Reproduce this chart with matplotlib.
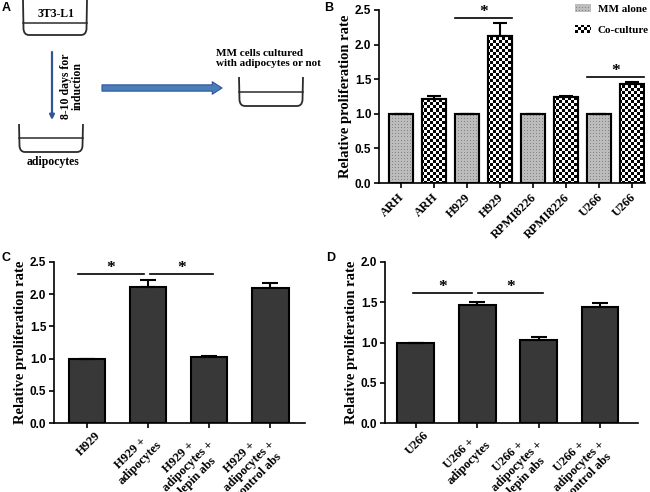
import numpy as np
import matplotlib
matplotlib.use('Agg')
import matplotlib.pyplot as plt
import matplotlib.transforms as mtransforms
from matplotlib.patches import Rectangle, PathPatch
from matplotlib.path import Path
from matplotlib.legend_handler import HandlerBase

# ---------------- data ----------------
b_labels = ['ARH', 'ARH', 'H929', 'H929', 'RPMI8226', 'RPMI8226', 'U266', 'U266']
b_groups = ['MM alone', 'Co-culture', 'MM alone', 'Co-culture',
            'MM alone', 'Co-culture', 'MM alone', 'Co-culture']
b_values = [1.0, 1.22, 1.0, 2.12, 1.0, 1.24, 1.0, 1.43]
b_errors = [0.0, 0.04, 0.0, 0.19, 0.0, 0.02, 0.0, 0.03]
b_sig_pairs = [(2, 3), (6, 7)]
b_sig_y = [2.39, 1.53]

c_labels = ['H929', 'H929 +\nadipocytes', 'H929 +\nadipocytes +\nlepin abs',
            'H929 +\nadipocytes +\ncontrol abs']
c_values = [1.0, 2.11, 1.025, 2.095]
c_errors = [0.0, 0.115, 0.02, 0.075]
c_sig_spans = [(-0.15, 0.93), (1.04, 2.07)]
c_sig_y = 2.31

d_labels = ['U266', 'U266 +\nadipocytes', 'U266 +\nadipocytes +\nlepin abs',
            'U266 +\nadipocytes +\ncontrol abs']
d_values = [1.0, 1.47, 1.03, 1.445]
d_errors = [0.0, 0.035, 0.035, 0.04]
d_sig_spans = [(-0.04, 0.92), (1.02, 2.07)]
d_sig_y = 1.615

SERIF = 'Liberation Serif'
SANS = 'Liberation Sans'

W, H = 650, 492
DPI = 100
fig = plt.figure(figsize=(W / DPI, H / DPI), dpi=DPI)


def fpos(left, top, right, bottom):
    return [left / W, 1 - bottom / H, (right - left) / W, (bottom - top) / H]


# ---------------- textures ----------------
def texture(kind, w, h):
    yy, xx = np.mgrid[0:h, 0:w]
    if kind == 'check':
        c = ((yy // 3 + xx // 3) % 2).astype(float)
        rgb = np.stack([c, c, c], axis=-1)
    else:
        base = np.full((h, w), 0.74)
        dots = (yy % 3 == 1) & (xx % 3 == 1)
        base[dots] = 0.52
        rgb = np.stack([base, base, base], axis=-1)
    return rgb


def add_textures(ax, bars, kinds):
    pos = ax.get_position()
    w = int(round(pos.width * W))
    h = int(round(pos.height * H))
    for bar, kind in zip(bars, kinds):
        im = ax.imshow(texture(kind, w, h), extent=(0, 1, 0, 1), transform=ax.transAxes,
                       aspect='auto', interpolation='nearest', zorder=2.5)
        im.set_clip_path(bar)


class TextureHandler(HandlerBase):
    def __init__(self, kind):
        super().__init__()
        self.kind = kind

    def create_artists(self, legend, orig_handle, xdescent, ydescent, width, height,
                       fontsize, trans):
        x0, y0 = -xdescent, -ydescent
        arts = []
        cell = 2.16
        if self.kind == 'check':
            arts.append(Rectangle((x0, y0), width, height, fc='white', ec='none', transform=trans))
            nx = int(np.ceil(width / cell))
            ny = int(np.ceil(height / cell))
            for i in range(nx):
                for j in range(ny):
                    if (i + j) % 2 == 0:
                        ww = min(cell, width - i * cell)
                        hh = min(cell, height - j * cell)
                        arts.append(Rectangle((x0 + i * cell, y0 + j * cell), ww, hh,
                                              fc='black', ec='none', transform=trans))
        else:
            arts.append(Rectangle((x0, y0), width, height, fc='#bdbdbd', ec='none', transform=trans))
            nx = int(width / cell)
            ny = int(height / cell)
            for i in range(nx):
                for j in range(ny):
                    arts.append(Rectangle((x0 + i * cell + 0.7, y0 + j * cell + 0.7), 0.72, 0.72,
                                          fc='#858585', ec='none', transform=trans))
        return arts


def style_axes(ax, ymax, ystep):
    for s in ['top', 'right']:
        ax.spines[s].set_visible(False)
    for s in ['left', 'bottom']:
        ax.spines[s].set_linewidth(1.2)
    ax.set_ylim(0, ymax)
    ticks = np.arange(0, ymax + 1e-9, ystep)
    ax.set_yticks(ticks)
    ax.set_yticklabels([f'{v:.1f}' for v in ticks],
                       fontfamily=SANS, fontweight='bold', fontsize=8.5)
    ax.tick_params(axis='both', direction='out', length=3.5, width=1.2, pad=2)
    ax.set_ylabel('Relative proliferation rate', fontfamily=SERIF, fontweight='bold',
                  fontsize=10.5, labelpad=2)


def set_xlabels(ax, labels, fs, pad, dx_px, linespacing=1.15):
    ax.set_xticks(np.arange(len(labels)))
    ax.tick_params(axis='x', pad=pad)
    ax.set_xticklabels(labels, rotation=45, ha='right', va='top', multialignment='center',
                       fontfamily=SERIF, fontweight='bold', fontsize=fs,
                       linespacing=linespacing)
    off = mtransforms.ScaledTranslation(dx_px / DPI, 0, fig.dpi_scale_trans)
    for lbl in ax.get_xticklabels():
        lbl.set_transform(lbl.get_transform() + off)


def draw_sig(ax, x1, x2, y, fs=12.5):
    ax.plot([x1, x2], [y, y], color='black', lw=1.2, clip_on=False, zorder=4)
    ax.annotate('*', xy=((x1 + x2) / 2, y), xytext=(0, -1.5), textcoords='offset points',
                ha='center', va='bottom', fontsize=fs, fontfamily=SERIF, fontweight='bold',
                annotation_clip=False)


# ---------------- Panel A (schematic) ----------------
axA = fig.add_axes([0, 0, 1, 1])
axA.set_xlim(0, W)
axA.set_ylim(H, 0)
axA.axis('off')


def beaker(x0, x1, top, bottom, liquid):
    r = 6
    verts = [(x0, top), (x0 + 0.5, bottom - r), (x0 + 1, bottom), (x0 + r, bottom),
             (x1 - r, bottom), (x1 - 1, bottom), (x1 - 0.5, bottom - r), (x1, top)]
    codes = [Path.MOVETO, Path.LINETO, Path.CURVE3, Path.CURVE3, Path.LINETO,
             Path.CURVE3, Path.CURVE3, Path.LINETO]
    axA.add_patch(PathPatch(Path(verts, codes), fill=False, ec='#2b2b2b', lw=1.3))
    axA.plot([x0 + 0.3, x1 - 0.3], [liquid, liquid], color='#2b2b2b', lw=1.1)


beaker(23, 87, 0, 35, 22.7)
beaker(19, 83, 124, 152, 138)
beaker(239, 303, 77, 106, 92)

axA.text(56, 14, '3T3-L1', ha='center', va='center', fontfamily=SERIF, fontweight='bold', fontsize=8.5)
axA.text(53, 162, 'adipocytes', ha='center', va='center', fontfamily=SERIF, fontweight='bold', fontsize=8.5)
axA.text(72, 86, '8-10 days for\ninduction', ha='center', va='center', rotation=90,
         fontfamily=SERIF, fontweight='bold', fontsize=8.5, linespacing=1.05)
axA.text(216, 58.5, 'MM cells cultured\nwith adipocytes or not', ha='left', va='center',
         fontfamily=SERIF, fontweight='bold', fontsize=8, linespacing=1.1)
axA.annotate('', xy=(52, 120), xytext=(52, 52),
             arrowprops=dict(arrowstyle='-|>', color='#2f5597', lw=1.6, mutation_scale=7,
                             shrinkA=0, shrinkB=0))
axA.annotate('', xy=(222, 88), xytext=(102, 88),
             arrowprops=dict(arrowstyle='simple,head_width=0.9,head_length=0.7,tail_width=0.45',
                             fc='#4a7ebb', ec='#2f5597', lw=0.8, mutation_scale=10,
                             shrinkA=0, shrinkB=0))

# panel letters
for lab, (px, py) in zip(['A', 'B', 'C', 'D'], [(2, 2), (324, 2), (2, 252), (326, 252)]):
    fig.text(px / W, 1 - py / H, lab, ha='left', va='top', fontfamily=SANS,
             fontweight='bold', fontsize=9)

# ---------------- Panel B ----------------
axB = fig.add_axes(fpos(379, 10, 645, 183))
xb = np.arange(len(b_labels))
bw = 0.72
barsB = axB.bar(xb, b_values, bw, color='white', edgecolor='black', linewidth=1.5, zorder=2)
add_textures(axB, barsB, ['dots' if g == 'MM alone' else 'check' for g in b_groups])
axB.bar(xb, b_values, bw, fill=False, edgecolor='black', linewidth=1.5, zorder=3)
axB.errorbar(xb, b_values, yerr=[np.zeros(len(b_errors)), b_errors], fmt='none',
             ecolor='black', elinewidth=1.5, capsize=5, capthick=1.5, zorder=3.5)
style_axes(axB, 2.5, 0.5)
axB.set_xlim(-0.667, 7.39)
set_xlabels(axB, b_labels, 9, 2.5, 6)
for (i, j), y in zip(b_sig_pairs, b_sig_y):
    draw_sig(axB, xb[i] - bw / 2, xb[j] + bw / 2, y)

handles = [Rectangle((0, 0), 1, 1), Rectangle((0, 0), 1, 1)]
axB.legend(handles, ['MM alone', 'Co-culture'], loc='upper left',
           bbox_to_anchor=(575 / W, 1 - 4 / H), bbox_transform=fig.transFigure,
           frameon=False, borderpad=0, borderaxespad=0, handlelength=1.45, handleheight=0.7,
           handletextpad=0.6, labelspacing=1.05,
           handler_map={handles[0]: TextureHandler('dots'), handles[1]: TextureHandler('check')},
           prop=dict(family=SERIF, weight='bold', size=8))


# ---------------- Panels C & D ----------------
def panel_cd(ax, labels, values, errors, spans, sig_y, ymax, xlim):
    x = np.arange(len(labels))
    w = 0.6
    ax.bar(x, values, w, color='#383838', edgecolor='black', linewidth=1.5, zorder=2)
    ax.errorbar(x, values, yerr=[np.zeros(len(errors)), errors], fmt='none',
                ecolor='black', elinewidth=1.5, capsize=6, capthick=1.5, zorder=3.5)
    style_axes(ax, ymax, 0.5)
    ax.set_xlim(*xlim)
    set_xlabels(ax, labels, 9, 1.0, 16, linespacing=1.15)
    for (a, b) in spans:
        draw_sig(ax, a, b, sig_y)


axC = fig.add_axes(fpos(54, 262, 305, 423))
panel_cd(axC, c_labels, c_values, c_errors, c_sig_spans, c_sig_y, 2.5, (-0.54, 3.57))
axD = fig.add_axes(fpos(385, 262, 638, 423))
panel_cd(axD, d_labels, d_values, d_errors, d_sig_spans, d_sig_y, 2.0, (-0.5, 3.62))

fig.savefig('out.png', dpi=DPI)
